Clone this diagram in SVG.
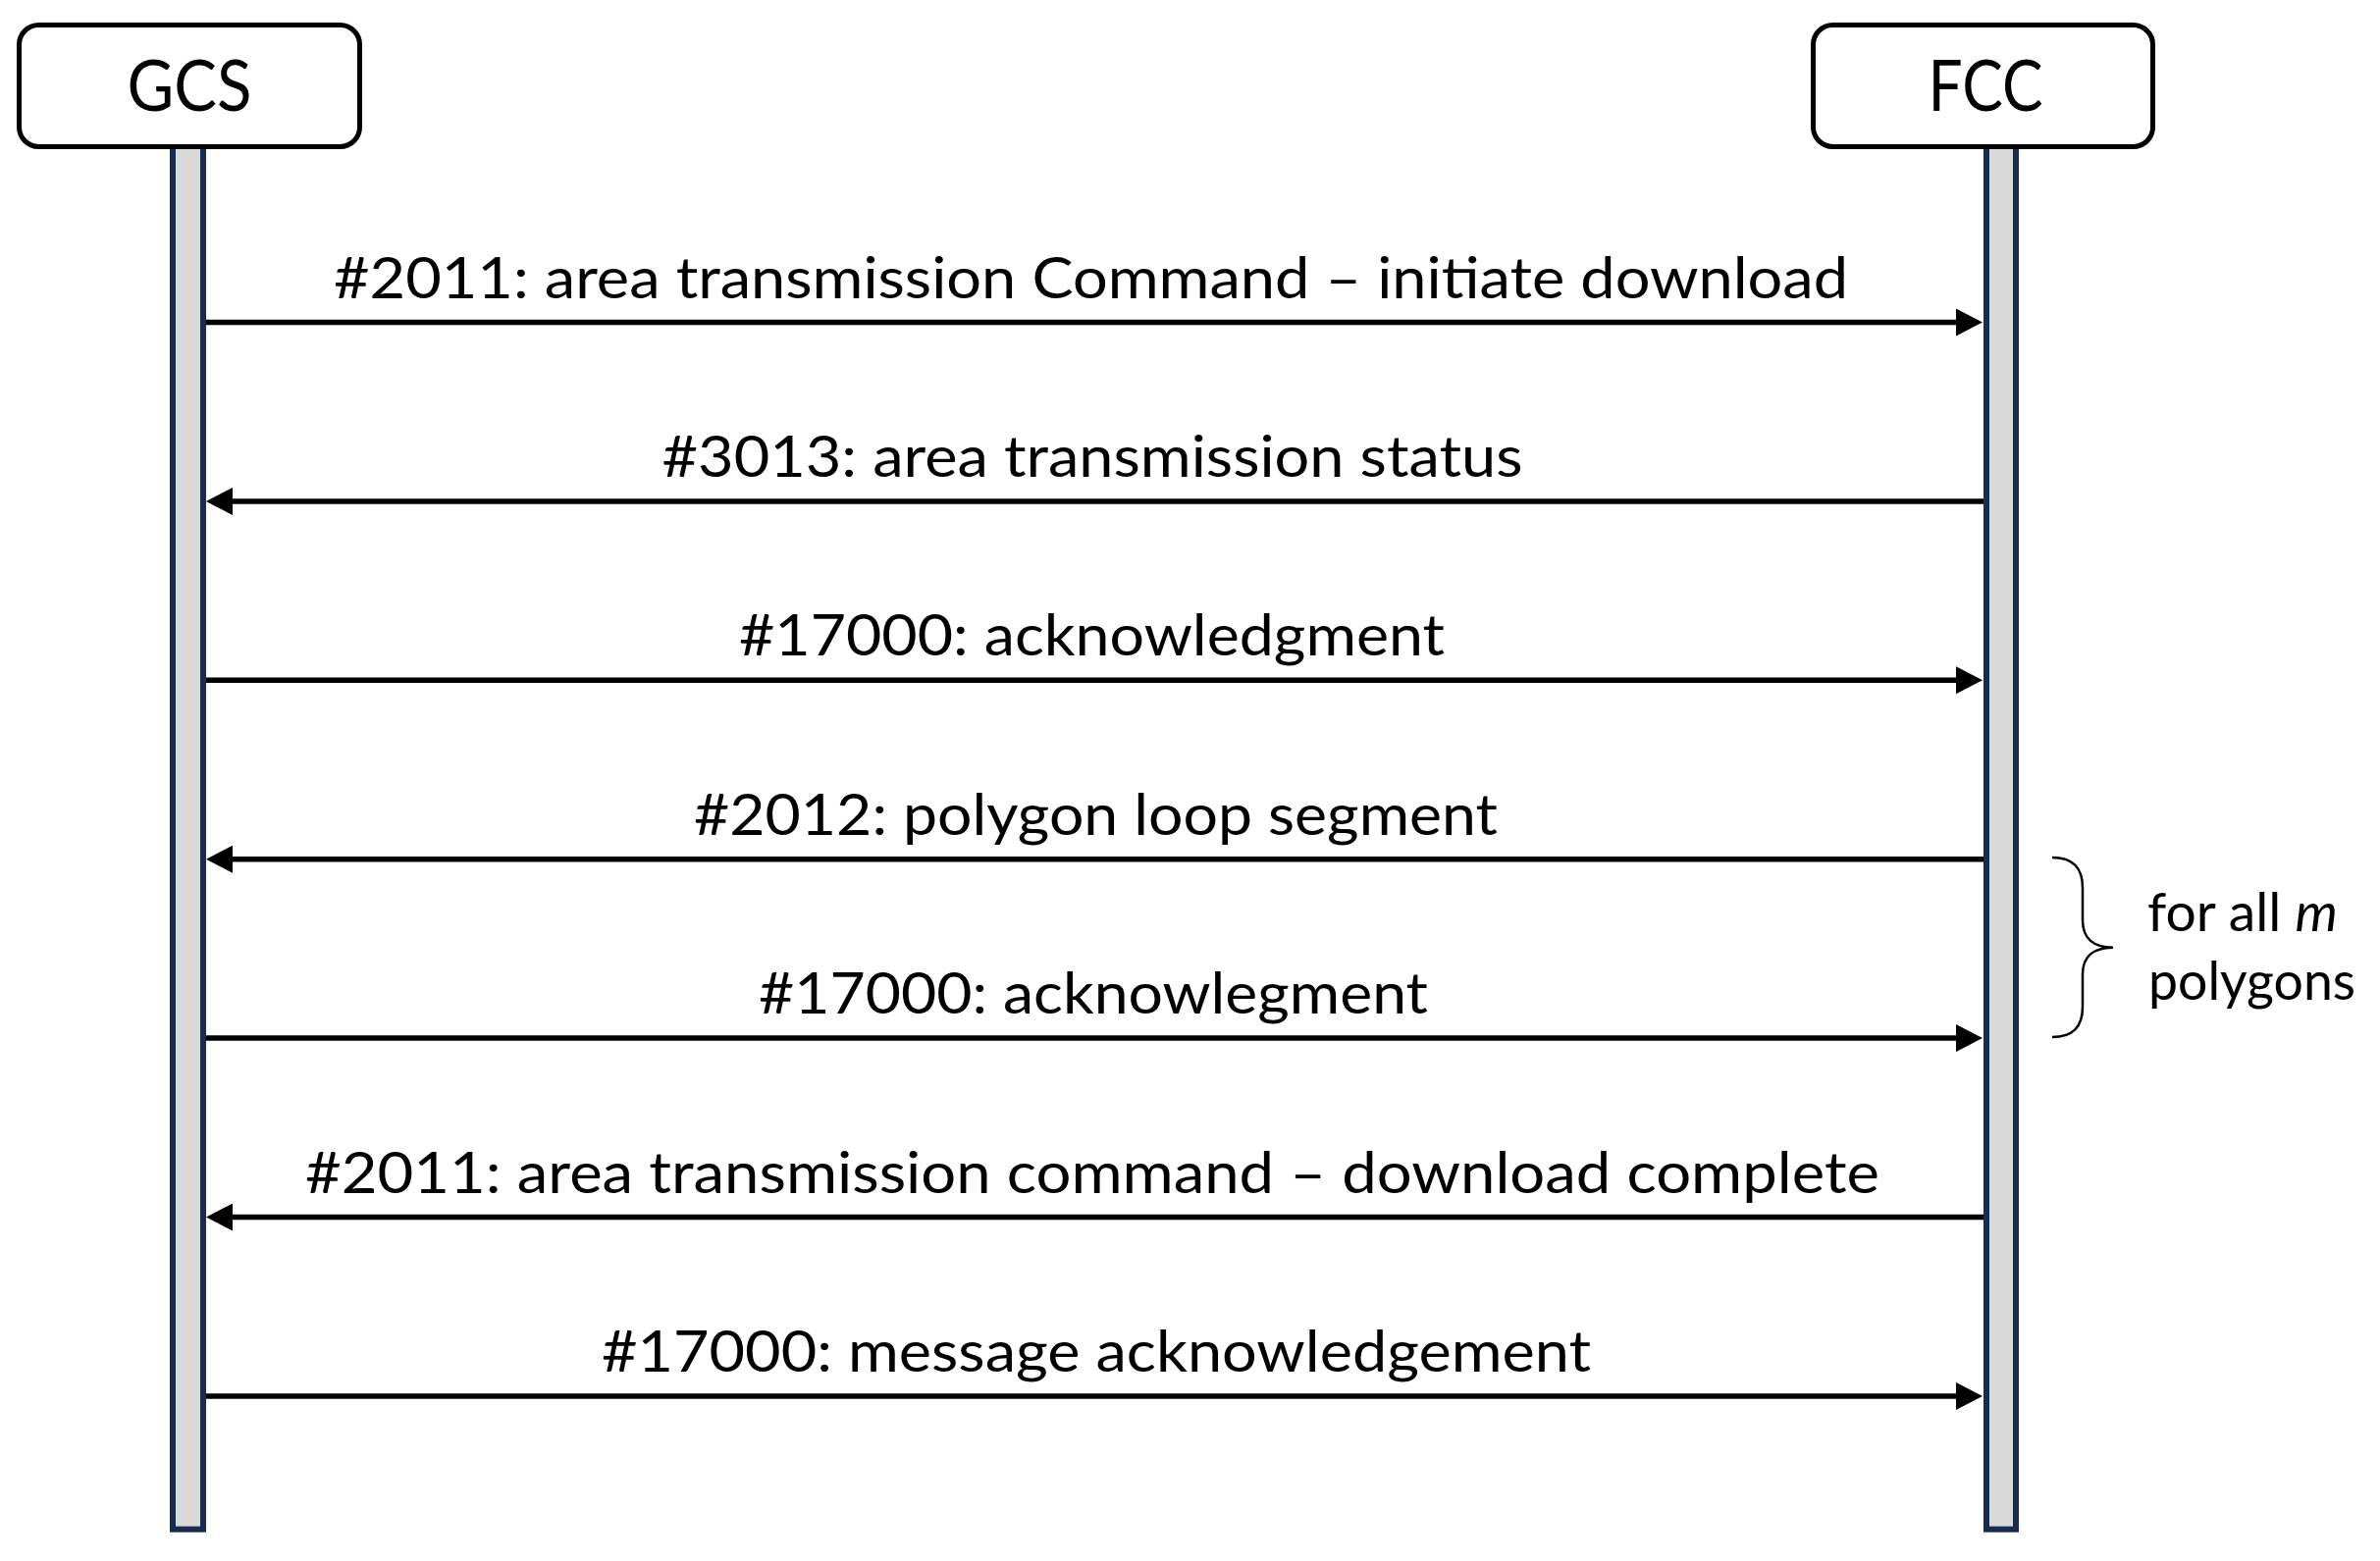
<svg xmlns="http://www.w3.org/2000/svg" width="2425" height="1591" viewBox="0 0 2425 1591">
<style>
.box{fill:#fff;stroke:#000;stroke-width:5}
.life{fill:#d9d9d9;stroke:#172c51;stroke-width:6}
.msg{stroke:#000;stroke-width:5.5;fill:none}
.lbl{font-family:Lato,"Open Sans",sans-serif;font-size:58px;fill:#000;text-anchor:middle}
.title{font-family:Lato,"Open Sans",sans-serif;font-size:72px;fill:#000;text-anchor:middle}
.note{font-family:Lato,"Open Sans",sans-serif;font-size:54px;fill:#000}
</style>
<defs>
<marker id="ah" markerUnits="userSpaceOnUse" markerWidth="28" markerHeight="28" refX="0" refY="14" orient="auto">
<path d="M0,0 L27,14 L0,28 Z" fill="#000"/>
</marker>
</defs>
<g id="gcs">
<rect class="life" x="176" y="148" width="31" height="1410.7"/>
<rect class="box" x="19.5" y="25.5" width="347" height="124" rx="20"/>
<text class="title" x="193" y="113" textLength="127" lengthAdjust="spacingAndGlyphs">GCS</text>
</g>
<g id="fcc">
<rect class="life" x="2024" y="148" width="30" height="1410.7"/>
<rect class="box" x="1847.5" y="25.5" width="346" height="124" rx="20"/>
<text class="title" x="2023" y="113" textLength="117" lengthAdjust="spacingAndGlyphs">FCC</text>
</g>
<g id="connectors">
<line class="msg" x1="210" y1="328.5" x2="1993" y2="328.5" marker-end="url(#ah)"/>
<line class="msg" x1="2021" y1="510.9" x2="237" y2="510.9" marker-end="url(#ah)"/>
<line class="msg" x1="210" y1="693.3" x2="1993" y2="693.3" marker-end="url(#ah)"/>
<line class="msg" x1="2021" y1="875.7" x2="237" y2="875.7" marker-end="url(#ah)"/>
<line class="msg" x1="210" y1="1058.1" x2="1993" y2="1058.1" marker-end="url(#ah)"/>
<line class="msg" x1="2021" y1="1240.5" x2="237" y2="1240.5" marker-end="url(#ah)"/>
<line class="msg" x1="210" y1="1422.9" x2="1993" y2="1422.9" marker-end="url(#ah)"/>
</g>
<g id="labels">
<text class="lbl" x="1111.5" y="303.5" textLength="1543" lengthAdjust="spacingAndGlyphs">#2011: area transmission Command – initiate download</text>
<text class="lbl" x="1113" y="486" textLength="877" lengthAdjust="spacingAndGlyphs">#3013: area transmission status</text>
<text class="lbl" x="1112.5" y="668.3" textLength="719" lengthAdjust="spacingAndGlyphs">#17000: acknowledgment</text>
<text class="lbl" x="1116.5" y="850.7" textLength="819" lengthAdjust="spacingAndGlyphs">#2012: polygon loop segment</text>
<text class="lbl" x="1114" y="1033.1" textLength="682" lengthAdjust="spacingAndGlyphs">#17000: acknowlegment</text>
<text class="lbl" x="1113" y="1215.5" textLength="1604" lengthAdjust="spacingAndGlyphs">#2011: area transmission command – download complete</text>
<text class="lbl" x="1117" y="1397.9" textLength="1008" lengthAdjust="spacingAndGlyphs">#17000: message acknowledgement</text>
</g>
<g id="loop-note">
<path d="M2091,874 C2112,874 2122,884 2122,905 L2122,938 C2122,957 2134,965.7 2153,965.7 C2134,965.7 2122,974 2122,993 L2122,1026 C2122,1047 2112,1057 2091,1057" fill="none" stroke="#000" stroke-width="2.5"/>
<text class="note" x="2188" y="949" textLength="194" lengthAdjust="spacingAndGlyphs">for all <tspan font-style="italic">m</tspan></text>
<text class="note" x="2189" y="1019" textLength="211" lengthAdjust="spacingAndGlyphs">polygons</text>
</g>
</svg>
